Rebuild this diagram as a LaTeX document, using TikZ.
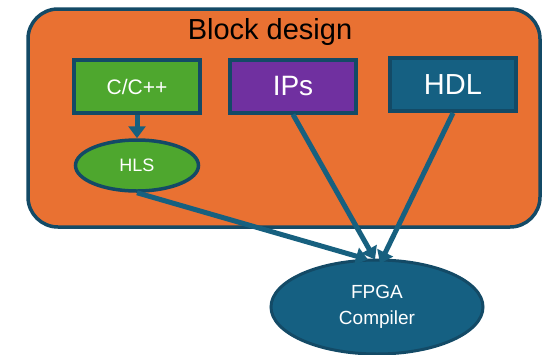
\documentclass[tikz,border=0pt]{standalone}
\usepackage{fontspec}
\setmainfont{Liberation Sans}
\usetikzlibrary{arrows.meta,shapes.geometric}

\definecolor{blockorange}{HTML}{E97132}
\definecolor{edgeblue}{HTML}{134A66}
\definecolor{fillblue}{HTML}{156082}
\definecolor{arrowblue}{HTML}{17607F}
\definecolor{srcgreen}{HTML}{4EA72E}
\definecolor{ippurple}{HTML}{7030A0}

\tikzset{
  srcbox/.style={draw=edgeblue, line width=4pt, rectangle,
    minimum width=126pt, minimum height=53pt, inner sep=0pt, text=white},
  oval/.style={draw=edgeblue, ellipse, inner sep=0pt, text=white},
  flow/.style={draw=arrowblue, line width=5pt,
    -{Triangle[width=17pt,length=12pt]}},
}

\begin{document}
\begin{tikzpicture}[x=1pt, y=-1pt]
  \useasboundingbox (0,0) rectangle (554,354);

  % container
  \draw[draw=edgeblue, fill=blockorange, line width=3.5pt, rounded corners=30pt]
    (28,9) rectangle (540,227);
  \node[anchor=base, font=\fontsize{29}{32}\selectfont] (title) at (270,39) {Block design};

  % sources
  \node[srcbox, fill=srcgreen, font=\fontsize{21}{24}\selectfont] (cpp) at (137,86.5) {C/C++};
  \node[srcbox, fill=ippurple, font=\fontsize{28}{30}\selectfont] (ips) at (293,86) {IPs};
  \node[srcbox, fill=fillblue, font=\fontsize{29}{30}\selectfont] (hdl) at (453,84.5) {HDL};

  % synthesis steps
  \node[oval, fill=srcgreen, line width=3.5pt, minimum width=123pt, minimum height=51pt,
    font=\fontsize{18}{22}\selectfont] (hls) at (137,165.5) {HLS};
  \node[oval, fill=fillblue, line width=3pt, minimum width=212pt, minimum height=94pt,
    align=center, font=\fontsize{19}{26}\selectfont] (fpga) at (377,307) {FPGA\\Compiler};

  % connectors
  \draw[flow] (cpp.south) -- (hls.north);
  \draw[flow] (hls.south) -- ([xshift=-9pt,yshift=-1pt]fpga.north);
  \draw[flow] (ips.south) -- ([xshift=-2pt,yshift=-1pt]fpga.north);
  \draw[flow] (hdl.south) -- ([xshift=3pt,yshift=-5pt]fpga.north);
\end{tikzpicture}
\end{document}
